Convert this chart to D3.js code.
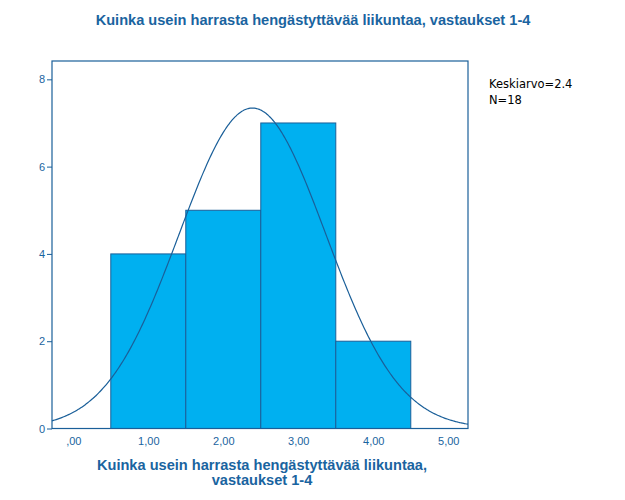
<!DOCTYPE html>
<html><head><meta charset="utf-8">
<script src="https://cdn.jsdelivr.net/npm/d3@7"></script>
<style>body{margin:0;background:#fff}</style>
</head><body>
<script>
const binStarts = [0.5, 1.5, 2.5, 3.5];
const binEnds = [1.5, 2.5, 3.5, 4.5];
const counts = [4, 5, 7, 2];
const xTicks = [0, 1, 2, 3, 4, 5];
const xTickLabels = [",00", "1,00", "2,00", "3,00", "4,00", "5,00"];
const yTicks = [0, 2, 4, 6, 8];
const meanValue = 2.389;
const sdValue = 0.978;
const nValue = 18;
const titleText = "Kuinka usein harrasta hengästyttävää liikuntaa, vastaukset 1-4";
const axisTitleLines = ["Kuinka usein harrasta hengästyttävää liikuntaa,", "vastaukset 1-4"];
const statLines = ["Keskiarvo=2.4", "N=18"];

const W = 625, H = 500;
const blue = "#1a5f99", fill = "#00b0f0", textBlue = "#1a64a0";
const L = 52, R = 468, T = 61, B = 428.5;

const svg = d3.select("body").append("svg").attr("width", W).attr("height", H);
const x = d3.scaleLinear().domain([-0.284, 5.263]).range([L, R]);
const y = d3.scaleLinear().domain([0, 8.42]).range([B, T]);

svg.append("text").attr("x", 313).attr("y", 25).attr("text-anchor", "middle")
  .attr("font-family", "Liberation Sans, Arial, sans-serif").attr("font-weight", "bold")
  .attr("font-size", 14.6).attr("fill", textBlue).text(titleText);

// bars
svg.selectAll("rect.bar").data(counts).enter().append("rect")
  .attr("x", (d, i) => x(binStarts[i])).attr("width", (d, i) => x(binEnds[i]) - x(binStarts[i]))
  .attr("y", d => y(d)).attr("height", d => y(0) - y(d))
  .attr("fill", fill).attr("stroke", blue).attr("stroke-width", 1);

// normal curve
const pts = d3.range(0, 301).map(k => {
  const v = -0.284 + k * (5.263 + 0.284) / 300;
  const dens = nValue * 1 / (sdValue * Math.sqrt(2 * Math.PI)) * Math.exp(-0.5 * ((v - meanValue) / sdValue) ** 2);
  return [v, dens];
});
svg.append("path").datum(pts).attr("fill", "none").attr("stroke", blue).attr("stroke-width", 1.2)
  .attr("d", d3.line().x(d => x(d[0])).y(d => y(d[1])).curve(d3.curveMonotoneX));

// frame
svg.append("rect").attr("x", L).attr("y", T).attr("width", R - L).attr("height", B - T)
  .attr("fill", "none").attr("stroke", blue).attr("stroke-width", 1.2);

// y axis
const ya = svg.append("g").attr("transform", `translate(${L},0)`)
  .call(d3.axisLeft(y).tickValues(yTicks).tickSize(5).tickPadding(2).tickFormat(d3.format("d")));
ya.select(".domain").remove();
ya.selectAll("line").attr("stroke", blue);
ya.selectAll("text").attr("fill", textBlue).attr("font-size", 11).attr("font-family", "Liberation Sans, Arial, sans-serif");

// x axis
const xa = svg.append("g").attr("transform", `translate(0,${B})`)
  .call(d3.axisBottom(x).tickValues(xTicks).tickSize(0).tickPadding(9).tickFormat((d, i) => xTickLabels[i]));
xa.select(".domain").remove();
xa.selectAll("text").attr("fill", textBlue).attr("font-size", 11).attr("font-family", "Liberation Sans, Arial, sans-serif");

svg.selectAll("text.axt").data(axisTitleLines).enter().append("text")
  .attr("x", 262).attr("y", (d, i) => 470 + i * 15).attr("text-anchor", "middle")
  .attr("font-family", "Liberation Sans, Arial, sans-serif").attr("font-weight", "bold")
  .attr("font-size", 14.6).attr("fill", textBlue).text(d => d);

svg.selectAll("text.stat").data(statLines).enter().append("text")
  .attr("x", 489).attr("y", (d, i) => 88 + i * 16)
  .attr("font-family", "DejaVu Sans, Tahoma, sans-serif").attr("font-size", 11.5)
  .attr("fill", "#000").text(d => d);
</script>
</body></html>
